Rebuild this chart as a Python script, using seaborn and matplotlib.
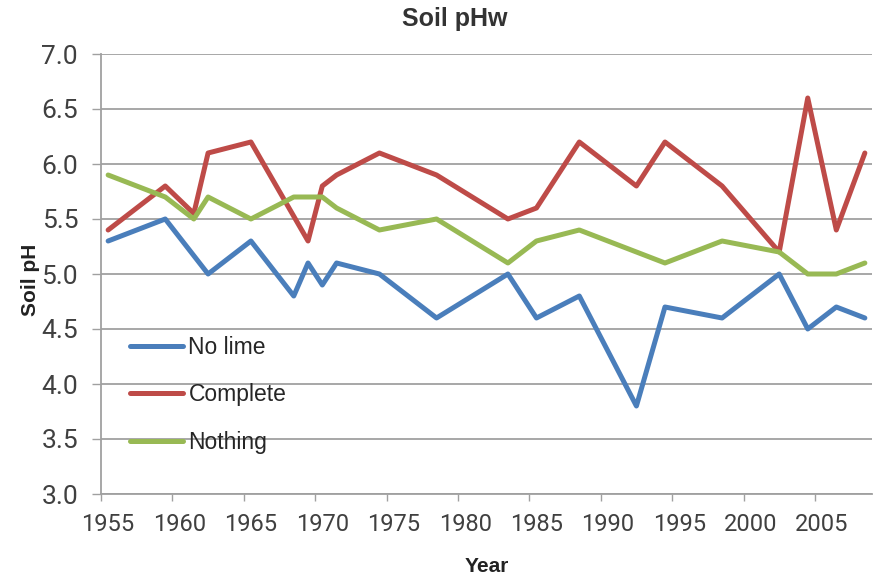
import numpy as np
import pandas as pd
import matplotlib
matplotlib.use("Agg")
import matplotlib.pyplot as plt
import seaborn as sns

years = [1955, 1959, 1961, 1962, 1965, 1968, 1969, 1970, 1971, 1974, 1978,
         1983, 1985, 1988, 1992, 1994, 1998, 2002, 2004, 2006, 2008]
no_lime = [5.3, 5.5, np.nan, 5.0, 5.3, 4.8, 5.1, 4.9, 5.1, 5.0, 4.6,
           5.0, 4.6, 4.8, 3.8, 4.7, 4.6, 5.0, 4.5, 4.7, 4.6]
complete = [5.4, 5.8, 5.55, 6.1, 6.2, np.nan, 5.3, 5.8, 5.9, 6.1, 5.9,
            5.5, 5.6, 6.2, 5.8, 6.2, 5.8, 5.2, 6.6, 5.4, 6.1]
nothing = [5.9, 5.7, 5.5, 5.7, 5.5, 5.7, np.nan, 5.7, 5.6, 5.4, 5.5,
           5.1, 5.3, 5.4, np.nan, 5.1, 5.3, 5.2, 5.0, 5.0, 5.1]
series_names = ["No lime", "Complete", "Nothing"]
colors = ["#4a7ebb", "#be4b48", "#98b954"]
x_tick_labels = [1955, 1960, 1965, 1970, 1975, 1980, 1985, 1990, 1995, 2000, 2005]
y_ticks = [3.0, 3.5, 4.0, 4.5, 5.0, 5.5, 6.0, 6.5, 7.0]

df = pd.DataFrame({"Year": years, "No lime": no_lime,
                   "Complete": complete, "Nothing": nothing})
long = df.melt(id_vars="Year", var_name="Series", value_name="pH").dropna()

sns.set_style("white")
plt.rcParams["font.family"] = ["Liberation Sans", "DejaVu Sans"]

fig = plt.figure(figsize=(8.73, 5.80), dpi=100)
ax = fig.add_axes([101/873, 1-494/580, 771/873, 440/580])

sns.lineplot(data=long, x="Year", y="pH", hue="Series", hue_order=series_names,
             palette=colors, linewidth=3.6, ax=ax, sort=True, estimator=None)

grid_c = "#a0a0a0"
ax.set_xlim(1954.5, 2008.5)
ax.set_ylim(3.0, 7.0)
ax.set_yticks(y_ticks)
ax.set_yticklabels([f"{v:.1f}" for v in y_ticks])
ax.yaxis.grid(True, color=grid_c, linewidth=1.3)
ax.xaxis.grid(False)
ax.set_axisbelow(True)

# category boundaries as major ticks, year labels centered as minor ticks
ax.set_xticks([v - 0.5 for v in x_tick_labels])
ax.set_xticklabels([])
ax.set_xticks(x_tick_labels, minor=True)
ax.set_xticklabels([str(v) for v in x_tick_labels], minor=True)
ax.tick_params(axis="x", which="major", direction="out", length=5, width=1,
               color=grid_c, bottom=True)
ax.tick_params(axis="x", which="minor", length=0, pad=14, labelsize=17,
               labelcolor="#404040", bottom=True)
ax.tick_params(axis="y", which="major", direction="out", length=6.5, width=1,
               color=grid_c, pad=10, labelsize=19, labelcolor="#404040", left=True)
for lab in ax.get_xticklabels(minor=True):
    lab.set_family(["Roboto", "DejaVu Sans"])
for lab in ax.get_yticklabels():
    lab.set_family(["Roboto", "DejaVu Sans"])

for s in ["top", "right"]:
    ax.spines[s].set_visible(False)
for s in ["left", "bottom"]:
    ax.spines[s].set_color(grid_c)
    ax.spines[s].set_linewidth(1.3)

ax.set_xlabel("")
ax.set_ylabel("")
fig.text(31/873, 1-280/580, "Soil pH", rotation=90, ha="center", va="center",
         fontsize=15, fontweight="bold", color="#222222")
fig.text(487/873, 1-566/580, "Year", ha="center", va="center",
         fontsize=15, fontweight="bold", color="#222222")
fig.text(455/873, 1-19/580, "Soil pHw", ha="center", va="center",
         fontsize=18, fontweight="bold", color="#333333")

leg = ax.legend(loc="center left", bbox_to_anchor=(29/771, (494-395)/440),
                frameon=False, fontsize=16.5, handlelength=2.3, handletextpad=0.25,
                labelspacing=1.05, borderpad=0, borderaxespad=0)
for t in leg.get_texts():
    t.set_color("#262626")
for h in leg.get_lines():
    h.set_linewidth(3.6)

fig.savefig("out.png", dpi=100)
